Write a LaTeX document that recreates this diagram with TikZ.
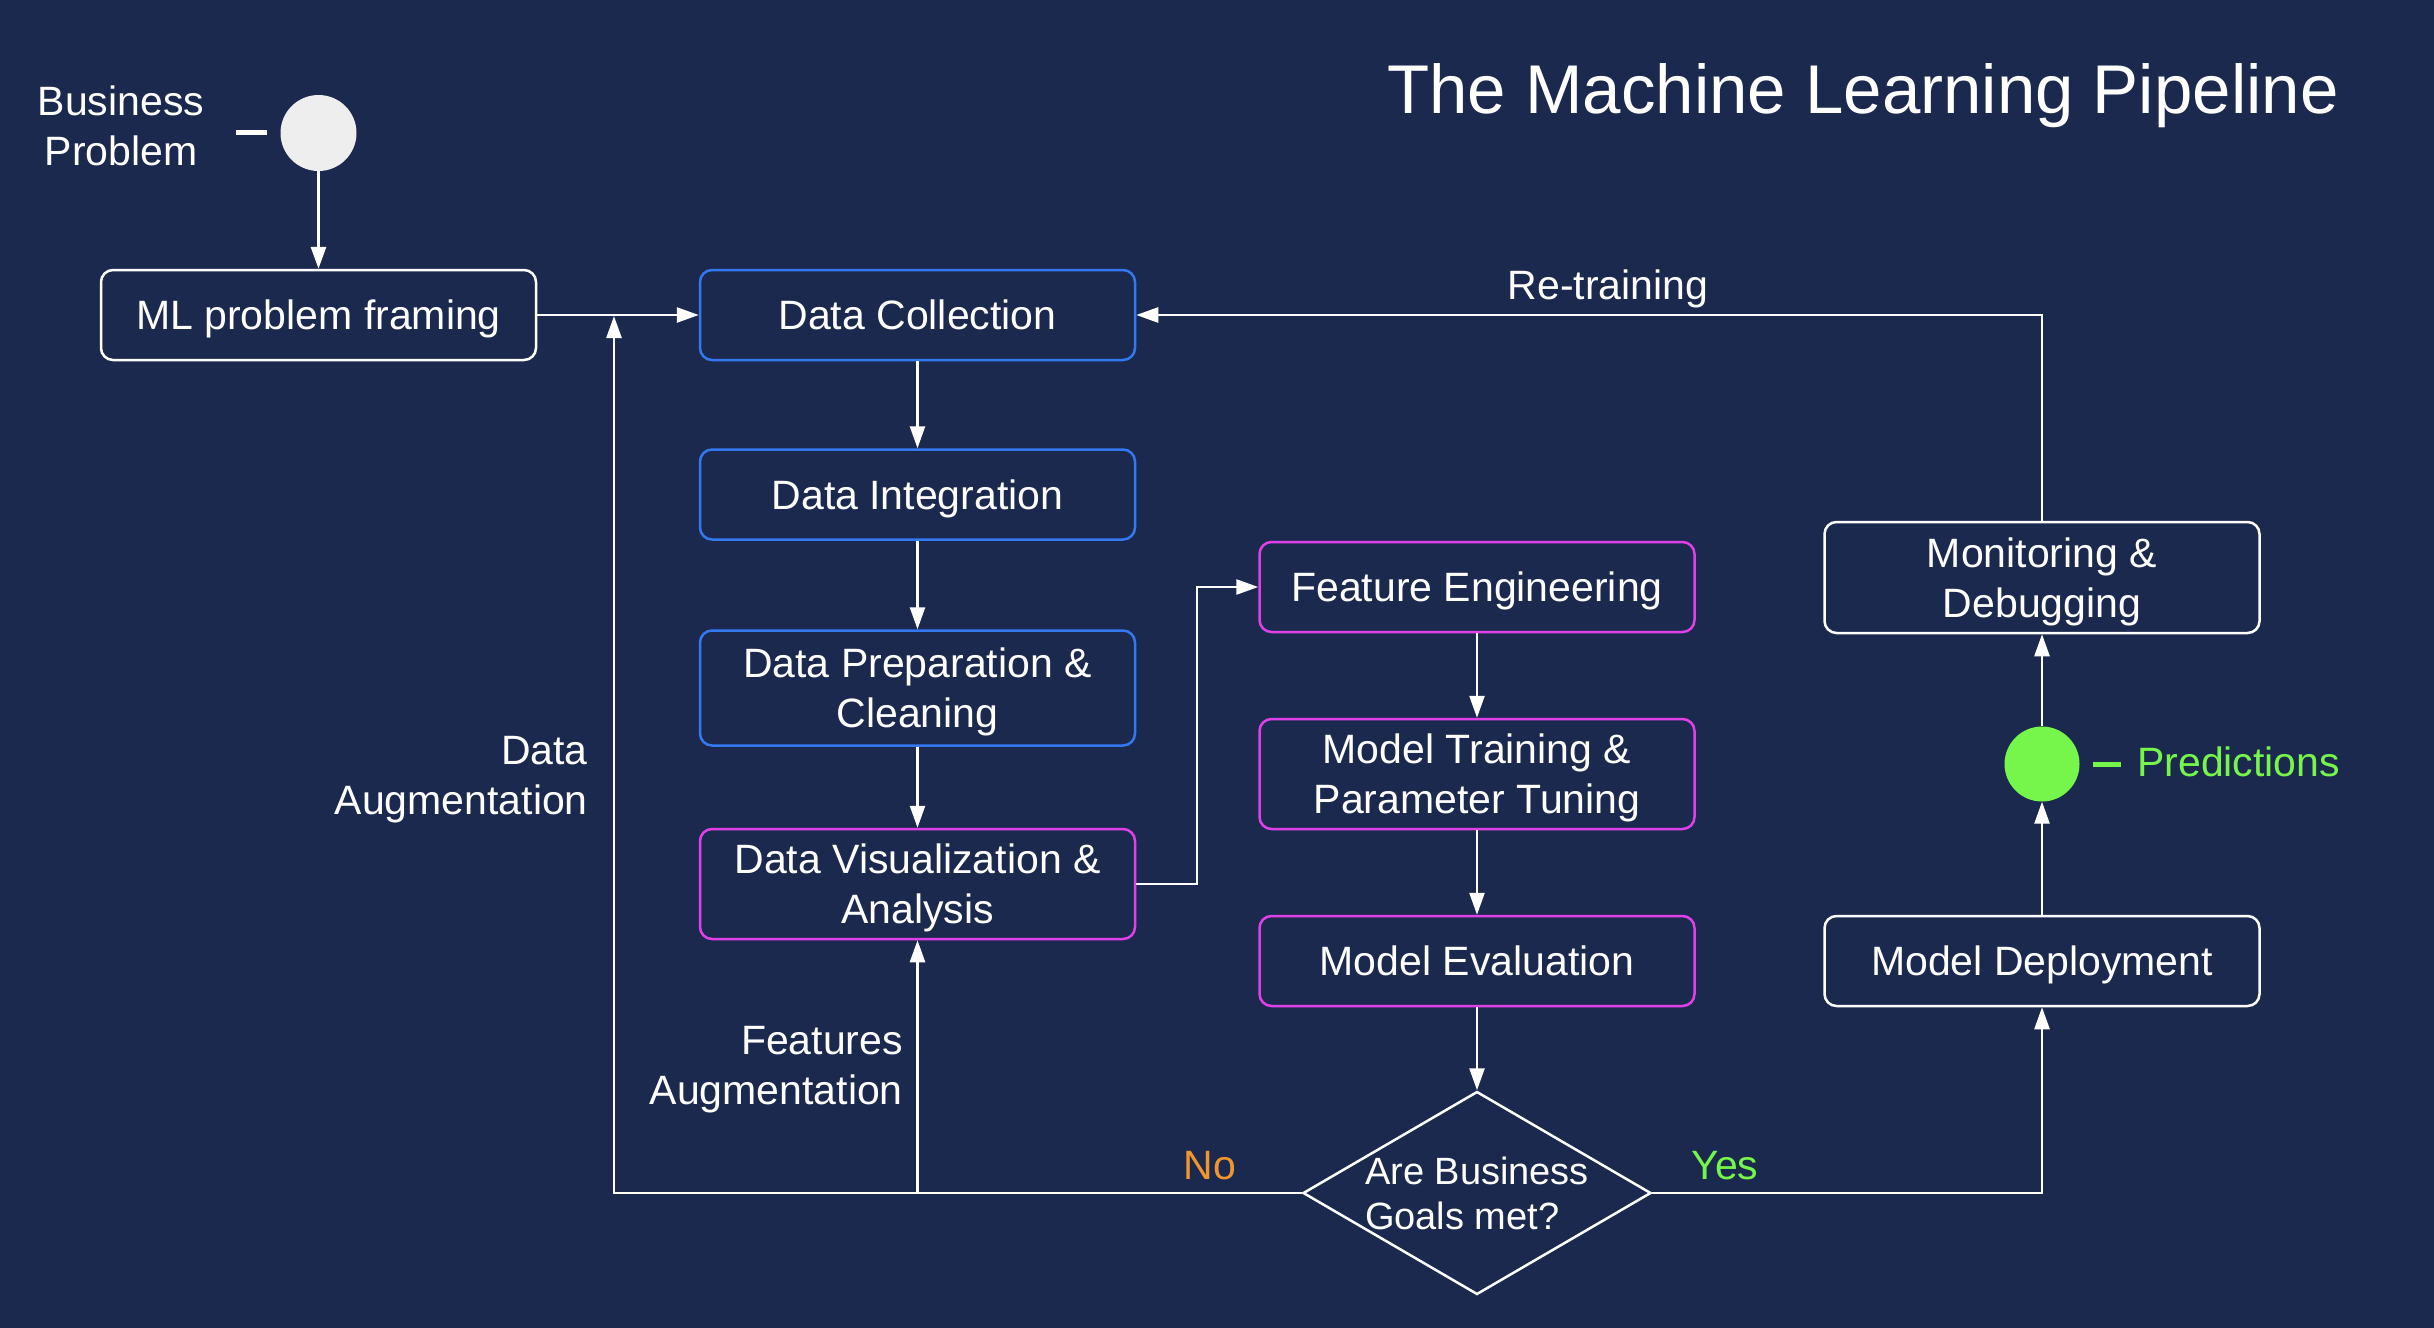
\documentclass[tikz,border=0pt]{standalone}
\usepackage{fontspec}
\setmainfont{Liberation Sans}
\usetikzlibrary{arrows.meta,shapes.geometric}
\definecolor{bg}{RGB}{28,41,78}
\definecolor{bblue}{RGB}{52,120,240}
\definecolor{bmag}{RGB}{224,64,232}
\definecolor{pgreen}{RGB}{118,245,74}
\definecolor{norange}{RGB}{240,150,46}
\definecolor{cgray}{RGB}{238,238,238}
\begin{document}
\begin{tikzpicture}[x=1pt,y=-1pt,
  every node/.style={font=\fontsize{41}{50}\selectfont, text=white},
  box/.style={draw=white, line width=2.5pt, rounded corners=12pt, fill=bg,
    minimum width=435pt, minimum height=90pt, inner sep=0pt, align=center,
    text height=29.5pt, text depth=0pt},
  twoline/.style={text height=79.5pt, text depth=0pt},
  bluebox/.style={box, draw=bblue},
  magbox/.style={box, draw=bmag},
  conn/.style={draw=white, line width=2.5pt},
  arr/.style={conn, -{Triangle[length=22pt,width=15pt]}},
  lbl/.style={inner sep=0pt, align=right}
]
\fill[bg] (0,0) rectangle (2434,1328);
\useasboundingbox (0,0) rectangle (2434,1328);

% title
\node[font=\fontsize{69}{80}\selectfont, inner sep=0pt] (title) at (1863,96) {The Machine Learning Pipeline};

% business problem
\node[lbl, align=center] (bp) at (121,126) {Business\\Problem};
\draw[line width=5pt, white] (236,132) -- (267,132);
\node[circle, fill=cgray, minimum size=76pt, inner sep=0pt] (start) at (318.5,133) {};

% left column
\node[box] (ml) at (318.5,315) {ML problem framing};
\node[bluebox] (dc) at (917.5,315) {Data Collection};
\node[bluebox] (di) at (917.5,494.5) {Data Integration};
\node[bluebox, twoline, minimum height=115pt] (dp) at (917.5,688) {Data Preparation \&\\Cleaning};
\node[magbox, twoline, minimum height=110pt] (dv) at (917.5,884) {Data Visualization \&\\Analysis};

% middle column
\node[magbox] (fe) at (1477,587) {Feature Engineering};
\node[magbox, twoline, minimum height=110pt] (mt) at (1477,774) {Model Training \&\\Parameter Tuning};
\node[magbox] (me) at (1477,961) {Model Evaluation};
\node[diamond, draw=white, line width=2.5pt, fill=bg, minimum width=348pt, minimum height=203pt, inner sep=0pt, aspect=1.714] (dia) at (1477,1193) {};
\node[font=\fontsize{38}{45}\selectfont, align=left, inner sep=0pt] (dial) at (1477,1193) {Are Business\\Goals met?};

% right column
\node[box, twoline, minimum height=111pt] (mon) at (2042,577.5) {Monitoring \&\\Debugging};
\node[circle, fill=pgreen, minimum size=75pt, inner sep=0pt] (pred) at (2042,764) {};
\draw[line width=5pt, pgreen] (2093,764) -- (2121,764);
\node[lbl, anchor=west, text=pgreen] (predl) at (2137,762) {Predictions};
\node[box] (dep) at (2042,961) {Model Deployment};

% labels
\node[lbl, anchor=east] (dal) at (588,780) {Data\\Augmentation};
\node[lbl, anchor=east] (fal) at (903,1070) {Features\\Augmentation};
\node[inner sep=0pt] (rtl) at (1608,289) {Re-training};
\node[inner sep=0pt, text=norange] (nol) at (1210,1166) {No};
\node[inner sep=0pt, text=pgreen] (yesl) at (1725,1166) {Yes};

% connectors
\draw[arr, line width=3pt] (start) -- (ml.north);
\draw[arr] (ml.east) -- (dc.west);
\draw[arr] (dc) -- (di);
\draw[arr] (di) -- (dp);
\draw[arr] (dp) -- (dv);
\coordinate (bend1) at (1197,884);
\draw[arr] (dv.east) -- (bend1) |- (fe.west);
\draw[arr] (fe) -- (mt);
\draw[arr] (mt) -- (me);
\draw[arr] (me) -- (dia.north);
\coordinate (augtop) at (614,316);
\draw[arr] (dia.west) -| (augtop);
\coordinate (fbase) at (dv.south |- dia.west);
\draw[arr] (fbase) -- (dv.south);
\draw[arr] (dia.east) -| (dep.south);
\draw[arr] (dep) -- (pred);
\draw[arr] (pred) -- (mon);
\draw[arr] (mon.north) |- (dc.east);
\end{tikzpicture}
\end{document}
